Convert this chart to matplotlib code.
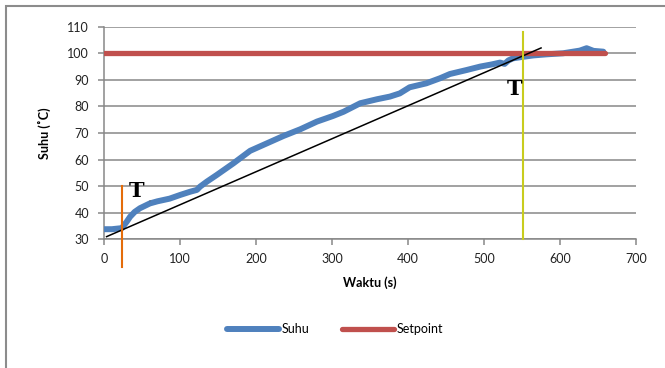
import matplotlib
matplotlib.use("Agg")
import matplotlib.pyplot as plt
from matplotlib.patches import Rectangle

# Data
time_s = [0, 10, 23, 29.5, 34, 40, 47, 60, 70, 86, 100, 113, 122, 126, 135, 148,
          170, 192, 214, 236, 258, 280, 301, 315, 337, 359, 376, 389, 402, 424,
          442, 455, 477, 495, 510, 521, 527, 532, 538, 552, 565, 582, 604, 626,
          635, 644, 657]
suhu = [33.8, 33.8, 34.2, 36.6, 38.5, 40.3, 41.7, 43.5, 44.3, 45.3, 46.7, 47.9,
        48.6, 49.8, 51.7, 54.2, 58.6, 63.3, 66.1, 68.9, 71.4, 74.3, 76.4, 78.0,
        81.2, 82.7, 83.7, 84.9, 87.2, 88.7, 90.6, 92.2, 93.7, 95.0, 95.8, 96.5,
        96.0, 97.3, 98.1, 98.7, 99.2, 99.6, 100.0, 101.0, 101.9, 100.9, 100.6]
setpoint_t = [0, 659]
setpoint_v = [100, 100]
trend_t = [3, 575]
trend_v = [31, 102]
t_start_x = 23
t_start_y = [19.5, 50]
t_end_x = 551
t_end_y = [30, 108]
xticks = [0, 100, 200, 300, 400, 500, 600, 700]
yticks = [30, 40, 50, 60, 70, 80, 90, 100, 110]

plt.rcParams['font.family'] = ['Lato', 'DejaVu Sans']
grid_c = '#878787'

fig = plt.figure(figsize=(6.65, 3.68), dpi=100)
ax = fig.add_axes([104.3/665, 1-239.3/368, (636-104.3)/665, (239.3-26.7)/368])

ax.plot(time_s, suhu, color='#4F81BD', lw=4.3, solid_capstyle='round', label='Suhu', zorder=3)
ax.plot(setpoint_t, setpoint_v, color='#C0504D', lw=3.8, solid_capstyle='round', label='Setpoint', zorder=4)
ax.plot(trend_t, trend_v, color='black', lw=1.1, zorder=5)
ax.plot([t_end_x, t_end_x], t_end_y, color='#C8CC1E', lw=1.5, zorder=6, clip_on=False)
ax.plot([t_start_x, t_start_x], t_start_y, color='#E46C0A', lw=1.5, zorder=6, clip_on=False)

ax.text(42, 48.3, 'T', fontsize=15, fontweight='bold', family='DejaVu Serif',
        ha='center', va='center', zorder=7)
ax.text(60, 45.2, ',', fontsize=6, color='#555555', ha='center', va='center', zorder=7)
ax.text(540, 86.6, 'T', fontsize=15, fontweight='bold', family='DejaVu Serif',
        ha='center', va='center', zorder=7)

ax.set_xlim(0, 700)
ax.set_ylim(30, 110)
ax.set_xticks(xticks)
ax.set_yticks(yticks)
ax.grid(axis='y', color=grid_c, lw=1.1, zorder=0)
ax.set_axisbelow(True)
for s in ['top', 'right']:
    ax.spines[s].set_visible(False)
for s in ['left', 'bottom']:
    ax.spines[s].set_color(grid_c)
    ax.spines[s].set_linewidth(1.1)
ax.tick_params(axis='both', direction='out', length=4, width=1.1, color=grid_c,
               labelsize=9, labelcolor='#222222')
ax.tick_params(axis='y', pad=7)
ax.tick_params(axis='x', pad=6)

ax.set_xlabel('Waktu (s)', fontsize=9, fontweight='bold', labelpad=8)
ax.set_ylabel('Suhu (˚C)', fontsize=9, fontweight='bold', labelpad=12)

fig.legend(loc='center', bbox_to_anchor=(335/665, 1-329/368), ncol=2, frameon=False,
           fontsize=9, handlelength=4.2, handletextpad=0.2, columnspacing=2.6)

fig.patches.append(Rectangle((6/665, -0.1), 1.2, 1.1 - 6/368, transform=fig.transFigure,
                             fill=False, edgecolor='#8c8c8c', lw=1.5))

fig.savefig('out.png', dpi=100)
